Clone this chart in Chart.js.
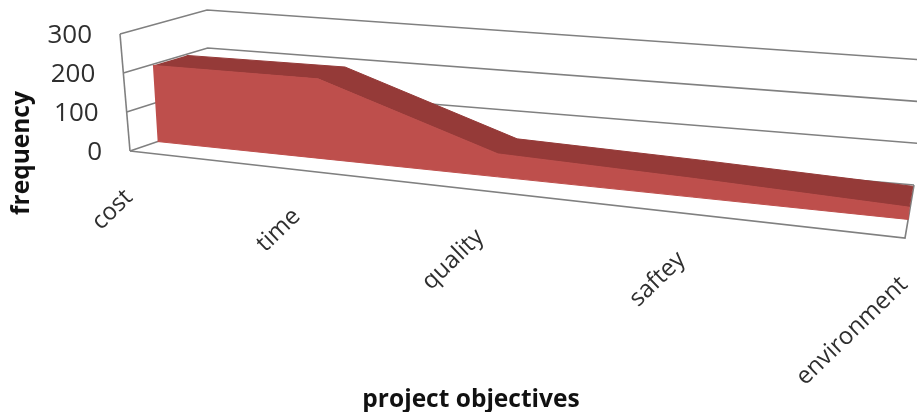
<!DOCTYPE html>
<html>
<head>
<meta charset="utf-8">
<style>
  html, body { margin: 0; background: #fff; }
  canvas { display: block; }
</style>
<script src="https://cdn.jsdelivr.net/npm/chart.js@4"></script>
</head>
<body>
<canvas id="objectives" width="917" height="412"></canvas>
<script>
var categories = ["cost", "time", "quality", "saftey", "environment"];
var frequency = [197, 200, 56, 44, 28];
var valueTicks = [0, 100, 200, 300];

// corners of the 3d box on screen: [category end][depth][bottom, top]
var box = [
  [[[130, 151], [120, 34]], [[209, 124], [207, 10]]],
  [[[905, 238], [918, 103]], [[914, 185], [924, 60]]]
];
var foreshorten = 1.207;   // far end of the category axis is squeezed
var areaFront = 0.35, areaBack = 0.75;

function mix(a, b, t) {
  return [a[0] + (b[0] - a[0]) * t, a[1] + (b[1] - a[1]) * t];
}

// category index, value, depth (0 front .. 1 back wall) -> screen point
function project(i, value, depth) {
  var u = i / (categories.length - 1);
  var f = u / (u + foreshorten * (1 - u));
  var h = value / 300;
  var left = mix(mix(box[0][0][0], box[0][0][1], h), mix(box[0][1][0], box[0][1][1], h), depth);
  var right = mix(mix(box[1][0][0], box[1][0][1], h), mix(box[1][1][0], box[1][1][1], h), depth);
  var p = mix(left, right, f);
  return { x: p[0], y: p[1] };
}

var last = categories.length - 1;
var gridColor = "#808080";

function frameLine(points) {
  return {
    data: points, showLine: true, pointRadius: 0, tension: 0,
    borderColor: gridColor, borderWidth: 1.6, fill: false
  };
}

function areaShape(points, color) {
  return {
    data: points, showLine: true, pointRadius: 0, tension: 0,
    borderWidth: 1, borderColor: color, backgroundColor: color, fill: "shape"
  };
}

var datasets = [];

// walls: one bent line per value level, left wall then back wall
valueTicks.forEach(function (v) {
  datasets.push(frameLine([project(0, v, 0), project(0, v, 1), project(last, v, 1)]));
});
datasets.push(frameLine([project(0, 0, 0), project(0, 300, 0)]));
// floor edges
datasets.push(frameLine([project(0, 0, 0), project(last, 0, 0), project(last, 0, 1)]));

// top of the area, running from front to back
var frontTop = categories.map(function (c, i) { return project(i, frequency[i], areaFront); });
var backTop = categories.map(function (c, i) { return project(i, frequency[i], areaBack); });
datasets.push(areaShape(frontTop.concat(backTop.slice().reverse()), "#953a38"));

// front face of the area
var frontBase = categories.map(function (c, i) { return project(i, 0, areaFront); });
datasets.push(areaShape(frontTop.concat(frontBase.slice().reverse()), "#be4f4c"));

// chart.js paints the first dataset last
datasets.reverse();

var axisText = {
  id: "axisText",
  afterDraw: function (chart) {
    var ctx = chart.ctx;
    var sx = chart.scales.x, sy = chart.scales.y;
    ctx.save();

    ctx.fillStyle = "#2f2f2f";
    ctx.font = "26px 'Open Sans'";
    ctx.textAlign = "right";
    ctx.textBaseline = "middle";
    valueTicks.forEach(function (v) {
      var p = project(0, v, 0);
      ctx.fillText(String(v), sx.getPixelForValue(p.x) - 28, sy.getPixelForValue(p.y) + 2);
    });

    ctx.font = "24px 'Open Sans'";
    categories.forEach(function (c, i) {
      var p = project(i, 0, 0);
      ctx.save();
      ctx.translate(sx.getPixelForValue(p.x) - 1, sy.getPixelForValue(p.y) + 43);
      ctx.rotate(-44 * Math.PI / 180);
      ctx.fillText(c, 0, 0);
      ctx.restore();
    });

    ctx.fillStyle = "#111";
    ctx.font = "bold 24.5px 'Open Sans'";
    ctx.textAlign = "center";
    ctx.fillText("project objectives", 471, 400);
    ctx.save();
    ctx.translate(22, 153);
    ctx.rotate(-Math.PI / 2);
    ctx.fillText("frequency", 0, 0);
    ctx.restore();

    ctx.restore();
  }
};

new Chart(document.getElementById("objectives").getContext("2d"), {
  type: "scatter",
  data: { datasets: datasets },
  plugins: [axisText],
  options: {
    responsive: false,
    animation: false,
    plugins: { legend: { display: false }, tooltip: { enabled: false } },
    scales: {
      x: { type: "linear", min: 0, max: 917, display: false },
      y: { type: "linear", min: 0, max: 412, reverse: true, display: false }
    }
  }
});
</script>
</body>
</html>
